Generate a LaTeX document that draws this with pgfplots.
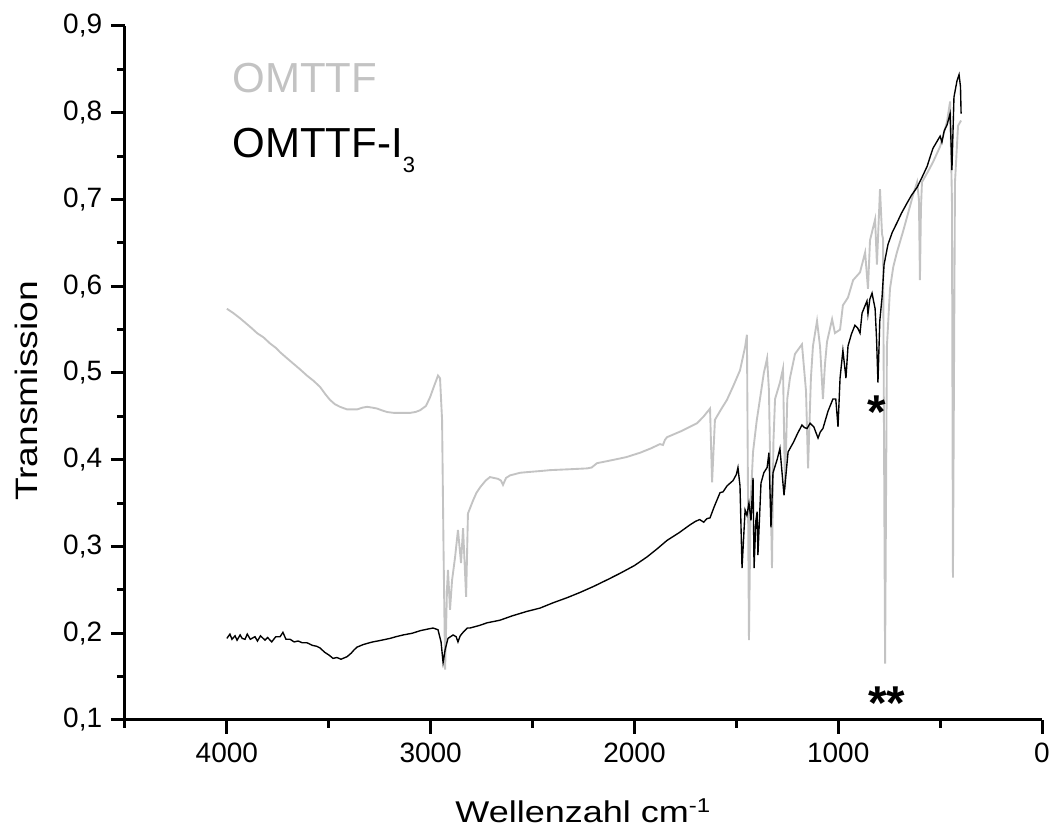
\documentclass[border=0pt]{standalone}
\usepackage{fontspec}
\setmainfont{Liberation Sans}
\newfontfamily\lblfont[FakeStretch=1.2]{Liberation Sans}
\usepackage{pgfplots}
\pgfplotsset{compat=1.18}
\definecolor{grayline}{RGB}{195,195,195}

\begin{document}
\begin{tikzpicture}
\begin{axis}[name=ax,
  scale only axis, width=366.8pt, height=277.6pt,
  x dir=reverse, xmin=0, xmax=4500, ymin=0.1, ymax=0.9,
  axis x line*=bottom, axis y line*=left,
  axis line style={line width=1.2pt},
  tick align=outside,
  major tick length=5.6pt, minor tick length=3.2pt,
  every tick/.append style={black, line width=1.2pt},
  xtick={0,1000,2000,3000,4000}, minor xtick={500,1500,2500,3500,4500},
  ytick={0.1,0.2,0.3,0.4,0.5,0.6,0.7,0.8,0.9},
  minor ytick={0.15,0.25,0.35,0.45,0.55,0.65,0.75,0.85},
  tick label style={font=\fontsize{11.2}{13}\selectfont},
  /pgf/number format/assume math mode=true,
  xticklabel style={/pgf/number format/1000 sep={}},
  yticklabel style={/pgf/number format/.cd, fixed, fixed zerofill, precision=1, use comma},
  xlabel={Wellenzahl cm\textsuperscript{-1}},
  ylabel={Transmission},
  xlabel style={at={(axis description cs:0.5,-0.1484)}, anchor=base, inner sep=0pt, font=\lblfont\fontsize{12}{14}\selectfont},
  ylabel style={at={(axis description cs:-0.0949,0.474)}, anchor=south, inner sep=0pt, font=\lblfont\fontsize{12.4}{15}\selectfont},
]
% OMTTF (gray)
\addplot[grayline, line width=0.75pt] coordinates {
(4000,0.574)(3968,0.569)(3935,0.563)(3905,0.557)(3880,0.552)(3852,0.546)(3820,0.541)(3788,0.534)(3760,0.529)(3739,0.524)
(3705,0.517)(3675,0.511)(3640,0.504)(3607,0.497)(3575,0.491)(3543,0.484)(3515,0.475)(3494,0.469)(3470,0.464)(3445,0.461)
(3410,0.458)(3385,0.458)(3361,0.458)(3335,0.460)(3312,0.461)(3285,0.460)(3263,0.459)(3240,0.457)(3214,0.455)(3180,0.454)
(3150,0.454)(3101,0.454)(3075,0.455)(3052,0.457)(3023,0.462)(3003,0.472)(2983,0.485)(2964,0.497)(2954,0.494)(2944,0.446)
(2937,0.300)(2929,0.158)(2920,0.250)(2915,0.273)(2905,0.227)(2895,0.261)(2880,0.288)(2866,0.319)(2851,0.281)(2841,0.321)
(2826,0.242)(2817,0.338)(2792,0.353)(2775,0.362)(2758,0.368)(2730,0.376)(2709,0.380)(2670,0.378)(2655,0.376)(2645,0.371)
(2630,0.379)(2610,0.382)(2560,0.385)(2512,0.386)(2460,0.387)(2414,0.388)(2320,0.389)(2233,0.390)(2210,0.391)(2184,0.396)
(2100,0.400)(2040,0.403)(1973,0.408)(1920,0.413)(1875,0.418)(1860,0.417)(1850,0.423)(1840,0.426)(1770,0.433)(1693,0.442)
(1660,0.450)(1629,0.459)(1619,0.374)(1605,0.446)(1575,0.458)(1546,0.469)(1515,0.485)(1482,0.503)(1457,0.530)(1448,0.544)
(1438,0.192)(1430,0.350)(1418,0.409)(1400,0.445)(1384,0.470)(1365,0.500)(1349,0.517)(1340,0.480)(1325,0.275)(1318,0.420)
(1310,0.470)(1286,0.489)(1271,0.505)(1261,0.366)(1250,0.470)(1237,0.494)(1212,0.522)(1178,0.533)(1158,0.479)(1148,0.390)
(1134,0.494)(1124,0.531)(1104,0.560)(1089,0.530)(1075,0.470)(1065,0.510)(1055,0.536)(1030,0.562)(1016,0.546)(991,0.550)
(977,0.578)(952,0.587)(927,0.607)(893,0.616)(868,0.639)(854,0.597)(844,0.653)(819,0.677)(810,0.625)(795,0.712)
(785,0.660)(780,0.655)(770,0.165)(761,0.531)(746,0.597)(730,0.622)(712,0.639)(682,0.663)(655,0.686)(633,0.705)
(613,0.720)(604,0.700)(599,0.607)(594,0.690)(589,0.720)(560,0.732)(535,0.743)(500,0.761)(466,0.790)(451,0.813)
(442,0.700)(437,0.264)(427,0.720)(412,0.785)(397,0.791)
};
% OMTTF-I3 (black)
\addplot[black, line width=0.55pt] coordinates {
(4000,0.194)(3985,0.199)(3975,0.193)(3960,0.197)(3950,0.192)(3935,0.198)(3925,0.194)(3911,0.193)(3900,0.199)(3885,0.193)
(3862,0.196)(3850,0.191)(3835,0.197)(3813,0.192)(3800,0.195)(3780,0.190)(3760,0.196)(3739,0.196)(3725,0.201)(3710,0.193)
(3690,0.193)(3670,0.190)(3650,0.191)(3630,0.189)(3607,0.189)(3580,0.186)(3560,0.185)(3543,0.183)(3520,0.178)(3500,0.175)
(3479,0.171)(3460,0.172)(3440,0.170)(3410,0.173)(3390,0.177)(3375,0.181)(3361,0.184)(3330,0.187)(3300,0.189)(3283,0.190)
(3240,0.192)(3200,0.194)(3170,0.196)(3135,0.198)(3090,0.200)(3050,0.203)(3010,0.205)(2988,0.206)(2964,0.204)(2949,0.190)
(2939,0.166)(2929,0.181)(2915,0.194)(2890,0.198)(2875,0.196)(2866,0.190)(2855,0.197)(2841,0.201)(2820,0.206)(2807,0.206)
(2760,0.209)(2723,0.212)(2660,0.215)(2600,0.220)(2530,0.225)(2463,0.229)(2400,0.235)(2330,0.241)(2267,0.247)(2200,0.254)
(2130,0.262)(2071,0.269)(2000,0.278)(1938,0.288)(1890,0.297)(1840,0.307)(1780,0.316)(1727,0.325)(1700,0.329)(1680,0.331)
(1660,0.328)(1645,0.332)(1629,0.333)(1610,0.345)(1580,0.362)(1565,0.363)(1545,0.370)(1516,0.376)(1500,0.383)(1492,0.391)
(1482,0.370)(1472,0.275)(1457,0.342)(1448,0.336)(1438,0.350)(1428,0.330)(1418,0.379)(1413,0.275)(1404,0.330)(1398,0.340)
(1394,0.290)(1379,0.373)(1365,0.385)(1349,0.391)(1340,0.408)(1330,0.322)(1320,0.385)(1300,0.400)(1286,0.413)(1266,0.359)
(1246,0.409)(1220,0.420)(1200,0.430)(1178,0.440)(1165,0.437)(1153,0.436)(1138,0.442)(1120,0.438)(1099,0.425)(1088,0.432)
(1075,0.436)(1050,0.456)(1026,0.470)(1012,0.470)(1001,0.438)(991,0.494)(977,0.526)(962,0.494)(952,0.531)(935,0.545)
(918,0.555)(905,0.552)(893,0.546)(883,0.569)(859,0.583)(854,0.568)(845,0.585)(834,0.592)(819,0.574)(812,0.540)
(805,0.489)(796,0.560)(785,0.587)(775,0.625)(756,0.648)(735,0.662)(712,0.673)(690,0.684)(662,0.696)(640,0.705)
(613,0.714)(590,0.725)(564,0.738)(545,0.752)(535,0.759)(500,0.773)(491,0.766)(480,0.779)(466,0.786)(451,0.799)
(442,0.734)(432,0.818)(417,0.837)(407,0.844)(400,0.830)(397,0.799)
};
\node[anchor=base west, text=grayline, inner sep=0pt, font=\fontsize{16.8}{20}\selectfont] at (axis cs:3975,0.8235) {OMTTF};
\node[anchor=base west, inner sep=0pt, font=\fontsize{16.8}{20}\selectfont] at (axis cs:3975,0.7486) {OMTTF-I\raisebox{-0.36em}{\fontsize{8.8}{10}\selectfont 3}};
\node[anchor=base, inner sep=0pt, font=\bfseries\fontsize{19}{22}\selectfont] at (axis cs:810,0.436) {*};
\node[anchor=base, inner sep=0pt, font=\bfseries\fontsize{19}{22}\selectfont] at (axis cs:761,0.100) {**};
\end{axis}
\path (ax.south west) ++(-50pt,-45.6pt) coordinate (bl);
\path (ax.north east) ++(2.8pt,10.4pt) coordinate (tr);
\pgfresetboundingbox
\path[use as bounding box] (bl) rectangle (tr);
\end{tikzpicture}
\end{document}
